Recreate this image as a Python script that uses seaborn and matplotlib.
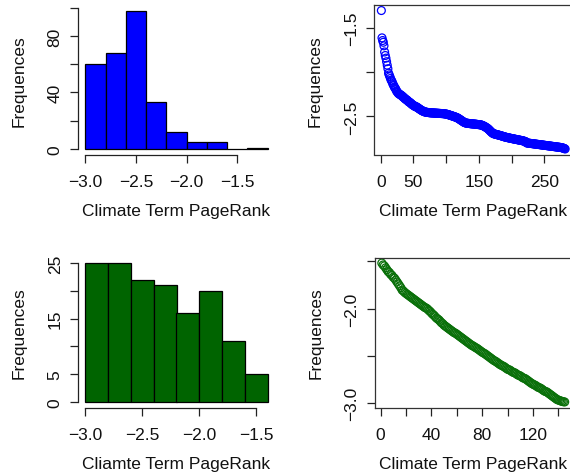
import matplotlib
matplotlib.use("Agg")
import matplotlib.pyplot as plt
import seaborn as sns
import numpy as np
import pandas as pd

sns.set_style("white")
plt.rcParams['font.family'] = ['Liberation Sans', 'DejaVu Sans']
plt.rcParams['font.size'] = 12

# ---------------- data ----------------
# log10 PageRank of climate terms (set 1), sorted in decreasing order
pagerank_all = [
    -1.30,
    -1.61, -1.64, -1.66, -1.70, -1.77,
    -1.81, -1.84, -1.88, -1.92, -1.96,
    -2.01, -2.03, -2.05, -2.07, -2.09, -2.10, -2.12, -2.14, -2.15, -2.17, -2.18, -2.19,
    -2.21, -2.22, -2.23, -2.24, -2.245, -2.25, -2.255, -2.26, -2.265, -2.27, -2.28,
    -2.285, -2.29, -2.30, -2.305, -2.31, -2.315, -2.32, -2.33, -2.335, -2.34, -2.345,
    -2.35, -2.36, -2.365, -2.37, -2.375, -2.38, -2.385, -2.39, -2.39, -2.395, -2.398,
    -2.405, -2.41, -2.415, -2.42, -2.425, -2.43, -2.435, -2.44, -2.44, -2.445, -2.45,
    -2.450, -2.452, -2.454, -2.455, -2.456, -2.457, -2.458, -2.459, -2.460, -2.460,
    -2.461, -2.461, -2.462, -2.462, -2.463, -2.463, -2.464, -2.464, -2.465, -2.465,
    -2.466, -2.466, -2.467, -2.467, -2.468, -2.468, -2.469, -2.469, -2.470, -2.471,
    -2.472, -2.473, -2.474, -2.476, -2.478, -2.480,
    -2.482, -2.485, -2.488, -2.49, -2.492, -2.495, -2.497, -2.50, -2.502, -2.505,
    -2.508, -2.51, -2.513, -2.517, -2.52, -2.525, -2.53, -2.535, -2.54, -2.545,
    -2.55, -2.555, -2.56, -2.565, -2.57,
    -2.573, -2.575, -2.577, -2.578, -2.579, -2.58, -2.581, -2.582, -2.583, -2.584,
    -2.585, -2.585, -2.586, -2.587, -2.588, -2.588, -2.589, -2.59, -2.591, -2.592,
    -2.593, -2.594, -2.595, -2.596, -2.597, -2.598,
    -2.602, -2.605, -2.608, -2.612, -2.616, -2.62, -2.625, -2.63, -2.635,
    -2.64, -2.647, -2.655, -2.662, -2.67, -2.677, -2.684, -2.69, -2.695,
    -2.698, -2.70, -2.702, -2.704, -2.706, -2.708, -2.71, -2.712, -2.714, -2.716,
    -2.718, -2.72, -2.722, -2.725, -2.728,
    -2.730, -2.732, -2.734, -2.736, -2.738, -2.740, -2.741, -2.743, -2.745, -2.746,
    -2.748, -2.750, -2.751, -2.753, -2.754, -2.756, -2.757, -2.759, -2.760, -2.762,
    -2.763, -2.765, -2.766, -2.768, -2.769, -2.771, -2.772, -2.774, -2.775, -2.777,
    -2.779, -2.781, -2.783, -2.786, -2.789,
    -2.801, -2.802, -2.803, -2.804, -2.805, -2.806, -2.807, -2.808, -2.809, -2.810,
    -2.811, -2.812, -2.813, -2.814, -2.815, -2.816, -2.817, -2.818, -2.819, -2.820,
    -2.821, -2.822, -2.823, -2.824, -2.825, -2.826, -2.827, -2.828,
    -2.829, -2.830, -2.831, -2.832, -2.833, -2.834, -2.835, -2.836, -2.837, -2.838,
    -2.839, -2.840, -2.841, -2.842, -2.843, -2.844, -2.845, -2.846, -2.847, -2.848,
    -2.849, -2.850, -2.851, -2.852, -2.853, -2.854, -2.856, -2.858, -2.860, -2.863,
    -2.866, -2.870,
]

# log10 PageRank of climate terms (set 2), sorted in decreasing order
pagerank_sub = [
    -1.52, -1.54, -1.55, -1.57, -1.59,
    -1.61, -1.62, -1.64, -1.65, -1.67, -1.68, -1.70, -1.72, -1.74, -1.76, -1.78,
    -1.805, -1.815, -1.83, -1.84, -1.85, -1.86, -1.87, -1.88, -1.89, -1.90,
    -1.91, -1.92, -1.93, -1.94, -1.95, -1.96, -1.97, -1.98, -1.99, -1.995,
    -2.005, -2.02, -2.03, -2.045, -2.06, -2.07, -2.085, -2.10, -2.11, -2.12,
    -2.135, -2.15, -2.16, -2.175, -2.185, -2.195,
    -2.205, -2.215, -2.225, -2.235, -2.245, -2.255, -2.26, -2.27, -2.28, -2.29,
    -2.30, -2.31, -2.32, -2.33, -2.34, -2.35, -2.36, -2.37, -2.38, -2.39, -2.395,
    -2.405, -2.413, -2.42, -2.43, -2.44, -2.45, -2.46, -2.468, -2.475, -2.485,
    -2.495, -2.505, -2.515, -2.525, -2.535, -2.545, -2.553, -2.56, -2.57, -2.58,
    -2.59, -2.597,
    -2.605, -2.61, -2.62, -2.63, -2.64, -2.645, -2.65, -2.66, -2.67, -2.675,
    -2.68, -2.69, -2.70, -2.705, -2.71, -2.72, -2.73, -2.735, -2.74, -2.75,
    -2.76, -2.77, -2.78, -2.79, -2.797,
    -2.805, -2.81, -2.82, -2.83, -2.835, -2.84, -2.85, -2.86, -2.87, -2.875,
    -2.88, -2.89, -2.90, -2.91, -2.92, -2.93, -2.94, -2.95, -2.96, -2.965,
    -2.97, -2.975, -2.98, -2.983, -2.985,
]

bins_all = [-3.0, -2.8, -2.6, -2.4, -2.2, -2.0, -1.8, -1.6, -1.4, -1.2]
bins_sub = [-3.0, -2.8, -2.6, -2.4, -2.2, -2.0, -1.8, -1.6, -1.4]

# tick positions / labels (R style: overlapping labels dropped)
h1_xticks = [-3.0, -2.5, -2.0, -1.5]
h1_xlabels = ["\u22123.0", "\u22122.5", "\u22122.0", "\u22121.5"]
h1_yticks = [0, 20, 40, 60, 80, 100]
h1_ylabels = ["0", "", "40", "", "80", ""]

s1_xticks = [0, 50, 100, 150, 200, 250]
s1_xlabels = ["0", "50", "", "150", "", "250"]
s1_yticks = [-2.5, -2.0, -1.5]
s1_ylabels = ["\u22122.5", "", "\u22121.5"]

h2_xticks = [-3.0, -2.5, -2.0, -1.5]
h2_xlabels = ["\u22123.0", "\u22122.5", "\u22122.0", "\u22121.5"]
h2_yticks = [0, 5, 10, 15, 20, 25]
h2_ylabels = ["0", "5", "", "15", "", "25"]

s2_xticks = [0, 20, 40, 60, 80, 100, 120, 140]
s2_xlabels = ["0", "", "40", "", "80", "", "120", ""]
s2_yticks = [-3.0, -2.5, -2.0, -1.5]
s2_ylabels = ["\u22123.0", "", "\u22122.0", ""]

xlab_top = "Climate Term PageRank"
xlab_bottom_left = "Cliamte Term PageRank"
ylab = "Frequences"

# ---------------- figure ----------------
W, H = 570, 477
fig = plt.figure(figsize=(W / 100, H / 100), dpi=100)


def px_axes(x0, x1, y0, y1):
    return fig.add_axes([x0 / W, 1 - y1 / H, (x1 - x0) / W, (y1 - y0) / H])


ax1 = px_axes(78, 275, 6, 155.5)
ax2 = px_axes(374, 572.5, 6, 155.5)
ax3 = px_axes(78, 275, 258.5, 408.5)
ax4 = px_axes(374.5, 572, 258.5, 408.5)


def r_range(lo, hi):
    d = (hi - lo) * 0.04
    return lo - d, hi + d


def style_axes(ax, xticks, xlabels, yticks, ylabels, xlabel, box):
    ax.set_xticks(xticks, labels=xlabels)
    ax.set_yticks(yticks, labels=ylabels)
    ax.tick_params(axis='both', which='major', bottom=True, left=True,
                   top=False, right=False,
                   direction='out', length=5.5, width=0.9,
                   color='#222222', labelsize=12.5, labelcolor='#111111')
    ax.tick_params(axis='x', pad=8.5)
    ax.tick_params(axis='y', pad=5.5, labelrotation=90)
    for lab in ax.get_yticklabels():
        lab.set_va('center')
    ax.set_xlabel(xlabel, fontsize=12.5, color='#111111')
    ax.set_ylabel(ylab, fontsize=12.5, color='#111111')
    hpx = ax.get_position().height * H
    wpx = ax.get_position().width * W
    ax.xaxis.set_label_coords(0.5, -56.5 / hpx)
    ax.xaxis.label.set_va('center')
    ax.yaxis.set_label_coords(-58.5 / wpx, 0.5)
    ax.yaxis.label.set_va('center')
    ax.grid(False)
    ax.set_facecolor('white')
    if box:
        for s in ax.spines.values():
            s.set_visible(True)
            s.set_color('#333333')
            s.set_linewidth(0.9)
    else:
        ax.spines['top'].set_visible(False)
        ax.spines['right'].set_visible(False)
        ax.spines['left'].set_bounds(min(yticks), max(yticks))
        ax.spines['bottom'].set_bounds(min(xticks), max(xticks))
        for k in ('left', 'bottom'):
            ax.spines[k].set_color('#222222')
            ax.spines[k].set_linewidth(0.9)


# top-left histogram
df1 = pd.DataFrame({"pr": pagerank_all})
sns.histplot(data=df1, x="pr", bins=bins_all, ax=ax1, color='#0000FF',
             edgecolor='black', linewidth=0.9, alpha=1.0)
counts1, _ = np.histogram(pagerank_all, bins=bins_all)
ax1.set_xlim(*r_range(bins_all[0], bins_all[-1]))
ax1.set_ylim(*r_range(0, counts1.max()))
style_axes(ax1, h1_xticks, h1_xlabels, h1_yticks, h1_ylabels, xlab_top, False)

# top-right sorted scatter
df2 = pd.DataFrame({"rank": np.arange(1, len(pagerank_all) + 1), "pr": pagerank_all})
sns.scatterplot(data=df2, x="rank", y="pr", ax=ax2, marker='o', s=32,
                facecolor='none', edgecolor='#0000FF', linewidth=0.9)
ax2.set_xlim(*r_range(1, len(pagerank_all)))
ax2.set_ylim(*r_range(min(pagerank_all), max(pagerank_all)))
style_axes(ax2, s1_xticks, s1_xlabels, s1_yticks, s1_ylabels, xlab_top, True)

# bottom-left histogram
df3 = pd.DataFrame({"pr": pagerank_sub})
sns.histplot(data=df3, x="pr", bins=bins_sub, ax=ax3, color='#006400',
             edgecolor='black', linewidth=0.9, alpha=1.0)
counts3, _ = np.histogram(pagerank_sub, bins=bins_sub)
ax3.set_xlim(*r_range(bins_sub[0], bins_sub[-1]))
ax3.set_ylim(*r_range(0, counts3.max()))
style_axes(ax3, h2_xticks, h2_xlabels, h2_yticks, h2_ylabels, xlab_bottom_left, False)

# bottom-right sorted scatter
df4 = pd.DataFrame({"rank": np.arange(1, len(pagerank_sub) + 1), "pr": pagerank_sub})
sns.scatterplot(data=df4, x="rank", y="pr", ax=ax4, marker='o', s=32,
                facecolor='none', edgecolor='#0A700A', linewidth=0.9)
ax4.set_xlim(*r_range(1, len(pagerank_sub)))
ax4.set_ylim(*r_range(min(pagerank_sub), max(pagerank_sub)))
style_axes(ax4, s2_xticks, s2_xlabels, s2_yticks, s2_ylabels, xlab_top, True)

fig.savefig("out.png", dpi=100, facecolor='white')
